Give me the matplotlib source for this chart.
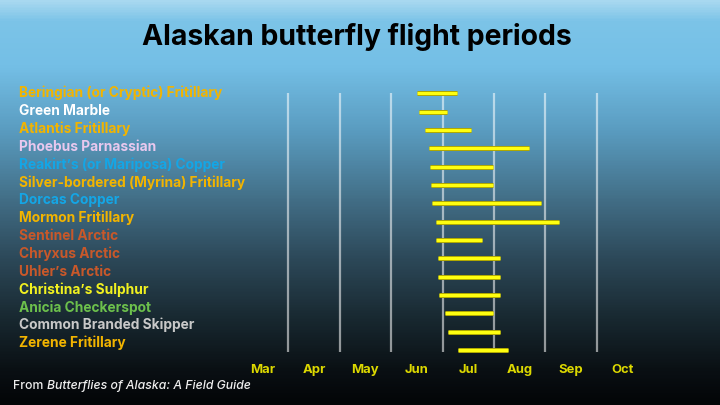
import matplotlib
matplotlib.use("Agg")
import matplotlib.pyplot as plt
import numpy as np
from matplotlib.colors import LinearSegmentedColormap

# ---- data ----
species = [
    "Beringian (or Cryptic) Fritillary", "Green Marble", "Atlantis Fritillary",
    "Phoebus Parnassian", "Reakirt\u2019s (or Mariposa) Copper",
    "Silver-bordered (Myrina) Fritillary", "Dorcas Copper", "Mormon Fritillary",
    "Sentinel Arctic", "Chryxus Arctic", "Uhler\u2019s Arctic",
    "Christina\u2019s Sulphur", "Anicia Checkerspot", "Common Branded Skipper",
    "Zerene Fritillary",
]
label_colors = [
    "#f2b400", "#ffffff", "#f2b400", "#e8c8ee", "#14a6e6", "#f2b400",
    "#14a6e6", "#f2b400", "#c8582a", "#c8582a", "#c8582a", "#f0f020",
    "#6cc04c", "#c8c8c8", "#f2b400",
]
# flight period in months since March 1
start = [3.51, 3.55, 3.65, 3.74, 3.76, 3.78, 3.79, 3.87, 3.87, 3.92, 3.92, 3.94, 4.05, 4.11, 4.30]
end = [4.28, 4.09, 4.55, 5.69, 4.98, 4.98, 5.91, 6.27, 4.76, 5.11, 5.11, 5.11, 4.98, 5.11, 5.28]
months = ["Mar", "Apr", "May", "Jun", "Jul", "Aug", "Sep", "Oct"]

W, H = 720, 405
fig = plt.figure(figsize=(W / 100, H / 100), dpi=100)

# background gradient
bg = fig.add_axes([0, 0, 1, 1])
stops = [(0.0, "#a8d8f0"), (20 / 405, "#7cc4e8"), (65 / 405, "#74bfe6"),
         (130 / 405, "#5a9cc0"), (200 / 405, "#426e86"), (260 / 405, "#2c4858"),
         (320 / 405, "#182830"), (370 / 405, "#0a1014"), (1.0, "#030507")]
cmap = LinearSegmentedColormap.from_list("bg", stops)
grad = np.linspace(0, 1, 405).reshape(-1, 1)
bg.imshow(grad, cmap=cmap, aspect="auto", extent=[0, 1, 0, 1], origin="upper")
bg.set_axis_off()

# chart axes (pixel geometry)
x0 = 236.9
step = 51.4
top, bot = 80, 360
ax = fig.add_axes([x0 / W, 1 - bot / H, 8 * step / W, (bot - top) / H])
ax.patch.set_alpha(0)
row0, rowstep = 93.3, 18.34
ax.set_xlim(0, 8)
ax.set_ylim((bot - row0) / rowstep, (top - row0) / rowstep)
for s in ax.spines.values():
    s.set_visible(False)
ax.set_xticks([])
ax.set_yticks([])

# gridlines at month starts Apr..Oct
ax.vlines(np.arange(1, 8), 0.0, (352 - row0) / rowstep, colors="#ffffff",
          alpha=0.55, linewidth=1.6, zorder=1)

n = len(species)
y = np.arange(n)
ax.hlines(y, start, end, colors="#a8a000", linewidth=3.6, zorder=2, capstyle="butt")
ax.hlines(y, start, end, colors="#ffff10", linewidth=2.3, zorder=3, capstyle="butt")

font = ["Inter", "DejaVu Sans"]

# month labels
for i, m in enumerate(months):
    ax.text(i + 0.5, (370 - row0) / rowstep, m, ha="center", va="center",
            color="#dcd800", fontsize=9.4, fontweight="bold", family=font)

# species labels
for i, (name, c) in enumerate(zip(species, label_colors)):
    fig.text(19 / W, 1 - (93 + 17.86 * i) / H, name, ha="left", va="center",
             color=c, fontsize=9.9, fontweight="bold", family=font)

fig.text(357 / W, 1 - 37 / H, "Alaskan butterfly flight periods", ha="center",
         va="center", color="#000000", fontsize=20.4, fontweight="bold", family=font)

# footer: normal + italic parts
t1 = fig.text(13 / W, 1 - 386 / H, "From ", ha="left", va="center",
              color="#eeeeee", fontsize=8.8, fontweight="medium", family=font)
fig.canvas.draw()
bb = t1.get_window_extent()
fig.text(bb.x1 / W, 1 - 386 / H, "Butterflies of Alaska: A Field Guide", ha="left",
         va="center", color="#eeeeee", fontsize=8.8, fontweight="medium",
         style="italic", family=font)

fig.savefig("out.png", dpi=100)
